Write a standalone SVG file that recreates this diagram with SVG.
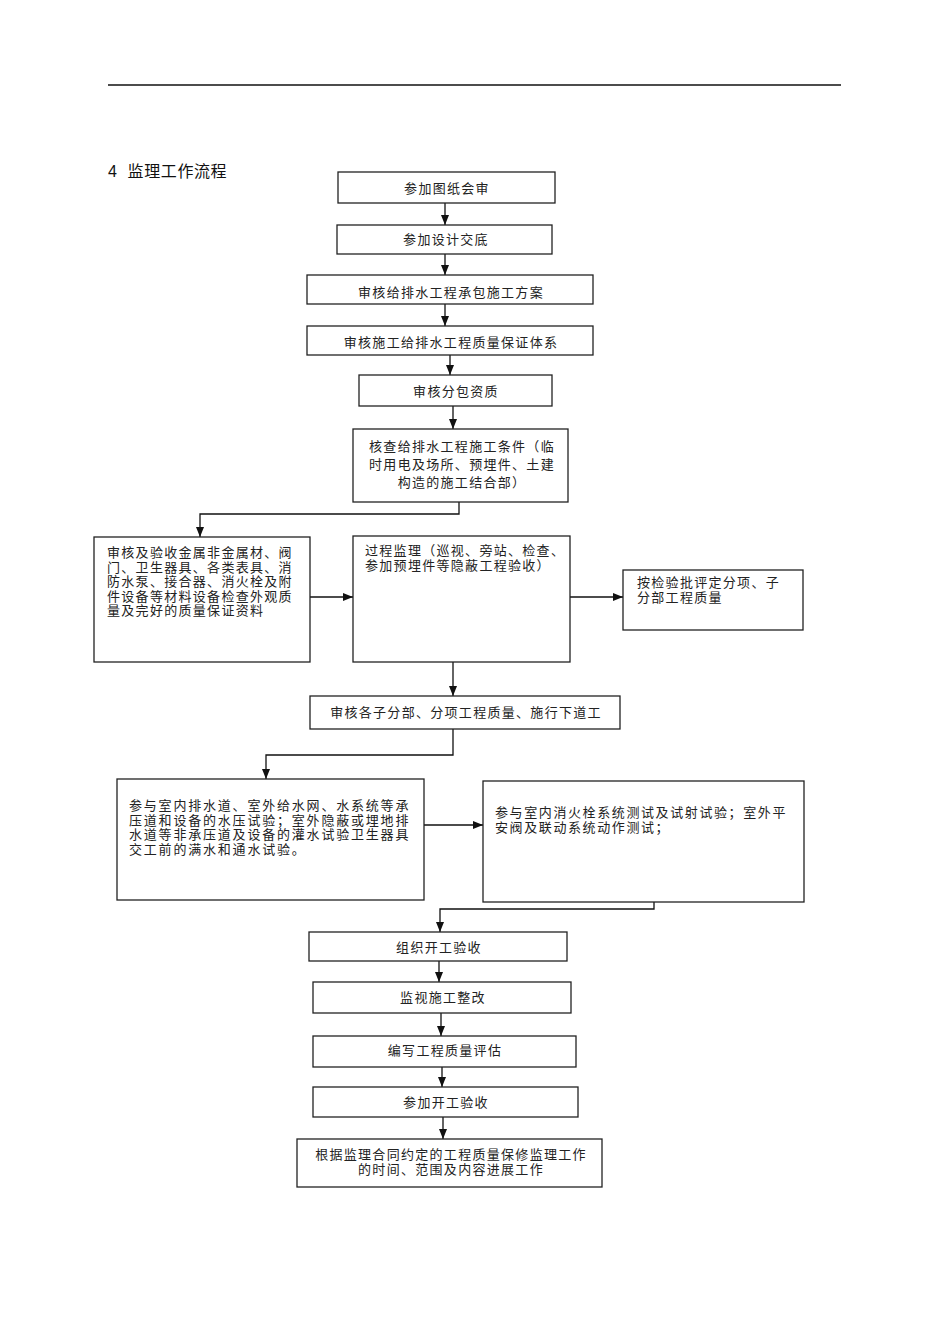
<svg xmlns="http://www.w3.org/2000/svg" width="950" height="1344" viewBox="0 0 950 1344">
<style>
  .box { fill: #fff; stroke: #222; stroke-width: 1.3; }
  .t { font-family: "Liberation Sans", "Noto Sans CJK SC", sans-serif; font-size: 13px; fill: #222; letter-spacing: 1.3px; }
  .w { letter-spacing: 1.8px; }
  .c { text-anchor: middle; }
  .ln { fill: none; stroke: #111; stroke-width: 1.3; }
  .title { font-family: "Liberation Sans", "Noto Sans CJK SC", sans-serif; font-size: 16px; fill: #111; letter-spacing: 0.6px; }
</style>
<defs>
  <marker id="ah" markerUnits="userSpaceOnUse" markerWidth="10" markerHeight="8" refX="10" refY="4" orient="auto">
    <path d="M0,0 L10,4 L0,8 z" fill="#111"/>
  </marker>
</defs>
<rect width="950" height="1344" fill="#fff"/>
<line x1="108" y1="85" x2="841" y2="85" stroke="#111" stroke-width="1.3"/>
<text class="title" x="108" y="177" xml:space="preserve">4  监理工作流程</text>

<g id="connectors">
  <path class="ln" marker-end="url(#ah)" d="M445,203 V225"/>
  <path class="ln" marker-end="url(#ah)" d="M445,254 V275"/>
  <path class="ln" marker-end="url(#ah)" d="M445,304 V326"/>
  <path class="ln" marker-end="url(#ah)" d="M450,355 V375"/>
  <path class="ln" marker-end="url(#ah)" d="M453,406 V429"/>
  <path class="ln" marker-end="url(#ah)" d="M459,502 V514 H200 V537"/>
  <path class="ln" marker-end="url(#ah)" d="M310,597 H353"/>
  <path class="ln" marker-end="url(#ah)" d="M569,597 H623"/>
  <path class="ln" marker-end="url(#ah)" d="M453,657 V696"/>
  <path class="ln" marker-end="url(#ah)" d="M453,729 V755 H266 V779"/>
  <path class="ln" marker-end="url(#ah)" d="M424,825 H483"/>
  <path class="ln" marker-end="url(#ah)" d="M654,896 V909 H440 V932"/>
  <path class="ln" marker-end="url(#ah)" d="M439,961 V982"/>
  <path class="ln" marker-end="url(#ah)" d="M441,1013 V1036"/>
  <path class="ln" marker-end="url(#ah)" d="M442,1067 V1087"/>
  <path class="ln" marker-end="url(#ah)" d="M443,1117 V1139"/>
</g>

<g id="n1"><rect class="box" x="338" y="172" width="217" height="31"/><text class="t c" x="447" y="193">参加图纸会审</text></g>
<g id="n2"><rect class="box" x="337" y="225" width="215" height="29"/><text class="t c" x="446" y="244">参加设计交底</text></g>
<g id="n3"><rect class="box" x="307" y="275" width="286" height="29"/><text class="t c" x="451" y="297">审核给排水工程承包施工方案</text></g>
<g id="n4"><rect class="box" x="307" y="326" width="286" height="29"/><text class="t c" x="451" y="347">审核施工给排水工程质量保证体系</text></g>
<g id="n5"><rect class="box" x="359" y="375" width="193" height="31"/><text class="t c" x="456" y="396">审核分包资质</text></g>
<g id="n6"><rect class="box" x="353" y="429" width="215" height="73"/>
  <text class="t c" x="462" y="451">核查给排水工程施工条件（临</text>
  <text class="t c" x="462" y="469">时用电及场所、预埋件、土建</text>
  <text class="t c" x="462" y="487">构造的施工结合部）</text></g>
<g id="n7"><rect class="box" x="94" y="537" width="216" height="125"/>
  <text class="t" x="107" y="557">审核及验收金属非金属材、阀</text>
  <text class="t" x="107" y="571.6">门、卫生器具、各类表具、消</text>
  <text class="t" x="107" y="586.2">防水泵、接合器、消火栓及附</text>
  <text class="t" x="107" y="600.8">件设备等材料设备检查外观质</text>
  <text class="t" x="107" y="615.4">量及完好的质量保证资料</text></g>
<g id="n8"><rect class="box" x="353" y="536" width="217" height="126"/>
  <text class="t" x="365" y="555">过程监理（巡视、旁站、检查、</text>
  <text class="t" x="365" y="569.6">参加预埋件等隐蔽工程验收）</text></g>
<g id="n9"><rect class="box" x="623" y="570" width="180" height="60"/>
  <text class="t" x="637" y="587">按检验批评定分项、子</text>
  <text class="t" x="637" y="601.6">分部工程质量</text></g>
<g id="n10"><rect class="box" x="310" y="696" width="310" height="33"/><text class="t c" x="466" y="717">审核各子分部、分项工程质量、施行下道工</text></g>
<g id="n11"><rect class="box" x="117" y="779" width="307" height="121"/>
  <text class="t w" x="129" y="810">参与室内排水道、室外给水网、水系统等承</text>
  <text class="t w" x="129" y="824.6">压道和设备的水压试验；室外隐蔽或埋地排</text>
  <text class="t w" x="129" y="839.2">水道等非承压道及设备的灌水试验卫生器具</text>
  <text class="t w" x="129" y="853.8">交工前的满水和通水试验。</text></g>
<g id="n12"><rect class="box" x="483" y="781" width="321" height="121"/>
  <text class="t" x="495" y="817" style="letter-spacing:1.6px">参与室内消火栓系统测试及试射试验；室外平</text>
  <text class="t" x="495" y="831.6" style="letter-spacing:1.6px">安阀及联动系统动作测试；</text></g>
<g id="n13"><rect class="box" x="309" y="932" width="258" height="29"/><text class="t c" x="439" y="952">组织开工验收</text></g>
<g id="n14"><rect class="box" x="313" y="982" width="258" height="31"/><text class="t c" x="443" y="1002">监视施工整改</text></g>
<g id="n15"><rect class="box" x="313" y="1036" width="263" height="31"/><text class="t c" x="445" y="1055">编写工程质量评估</text></g>
<g id="n16"><rect class="box" x="313" y="1087" width="265" height="30"/><text class="t c" x="446" y="1107">参加开工验收</text></g>
<g id="n17"><rect class="box" x="297" y="1139" width="305" height="48"/>
  <text class="t c" x="451" y="1159">根据监理合同约定的工程质量保修监理工作</text>
  <text class="t c" x="451" y="1173.6">的时间、范围及内容进展工作</text></g>
</svg>
